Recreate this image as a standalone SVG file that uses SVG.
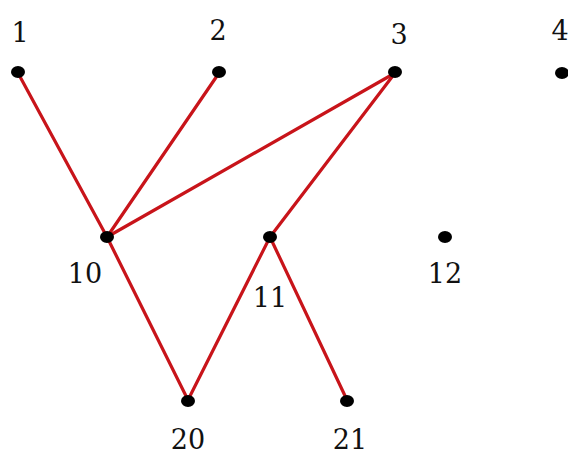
<svg xmlns="http://www.w3.org/2000/svg" width="568" height="455" viewBox="0 0 568 455">
<style>
.dot{fill:#000}
.lbl{font-family:"DejaVu Serif","Liberation Serif",serif;font-size:27px;fill:#111;text-anchor:middle}
.e{stroke:#c8141a;stroke-width:3.2;fill:none;stroke-linecap:round}
</style>
<rect width="568" height="455" fill="#fff"/>
<g id="connectors">
<line class="e" x1="18" y1="73" x2="107" y2="237"/>
<line class="e" x1="219" y1="73" x2="107" y2="237"/>
<line class="e" x1="395" y1="73" x2="107" y2="237"/>
<line class="e" x1="395" y1="73" x2="270" y2="237"/>
<line class="e" x1="107" y1="237" x2="188" y2="400"/>
<line class="e" x1="270" y1="237" x2="188" y2="400"/>
<line class="e" x1="270" y1="237" x2="347" y2="400"/>
</g>
<g id="n1"><ellipse class="dot" cx="18" cy="72" rx="7" ry="6"/><text class="lbl" x="20" y="42">1</text></g>
<g id="n2"><ellipse class="dot" cx="219" cy="72" rx="7" ry="6"/><text class="lbl" x="218" y="40">2</text></g>
<g id="n3"><ellipse class="dot" cx="395" cy="72" rx="7" ry="6"/><text class="lbl" x="399" y="44">3</text></g>
<g id="n4"><ellipse class="dot" cx="562" cy="73" rx="7" ry="6"/><text class="lbl" x="560" y="40">4</text></g>
<g id="n10"><ellipse class="dot" cx="107" cy="237" rx="7" ry="6"/><text class="lbl" x="85" y="283">10</text></g>
<g id="n11"><ellipse class="dot" cx="270" cy="237" rx="7" ry="6"/><text class="lbl" x="270" y="307">11</text></g>
<g id="n12"><ellipse class="dot" cx="445" cy="237" rx="7" ry="6"/><text class="lbl" x="445" y="283">12</text></g>
<g id="n20"><ellipse class="dot" cx="188" cy="401" rx="7" ry="6"/><text class="lbl" x="188" y="449">20</text></g>
<g id="n21"><ellipse class="dot" cx="347" cy="401" rx="7" ry="6"/><text class="lbl" x="350" y="449">21</text></g>
</svg>
